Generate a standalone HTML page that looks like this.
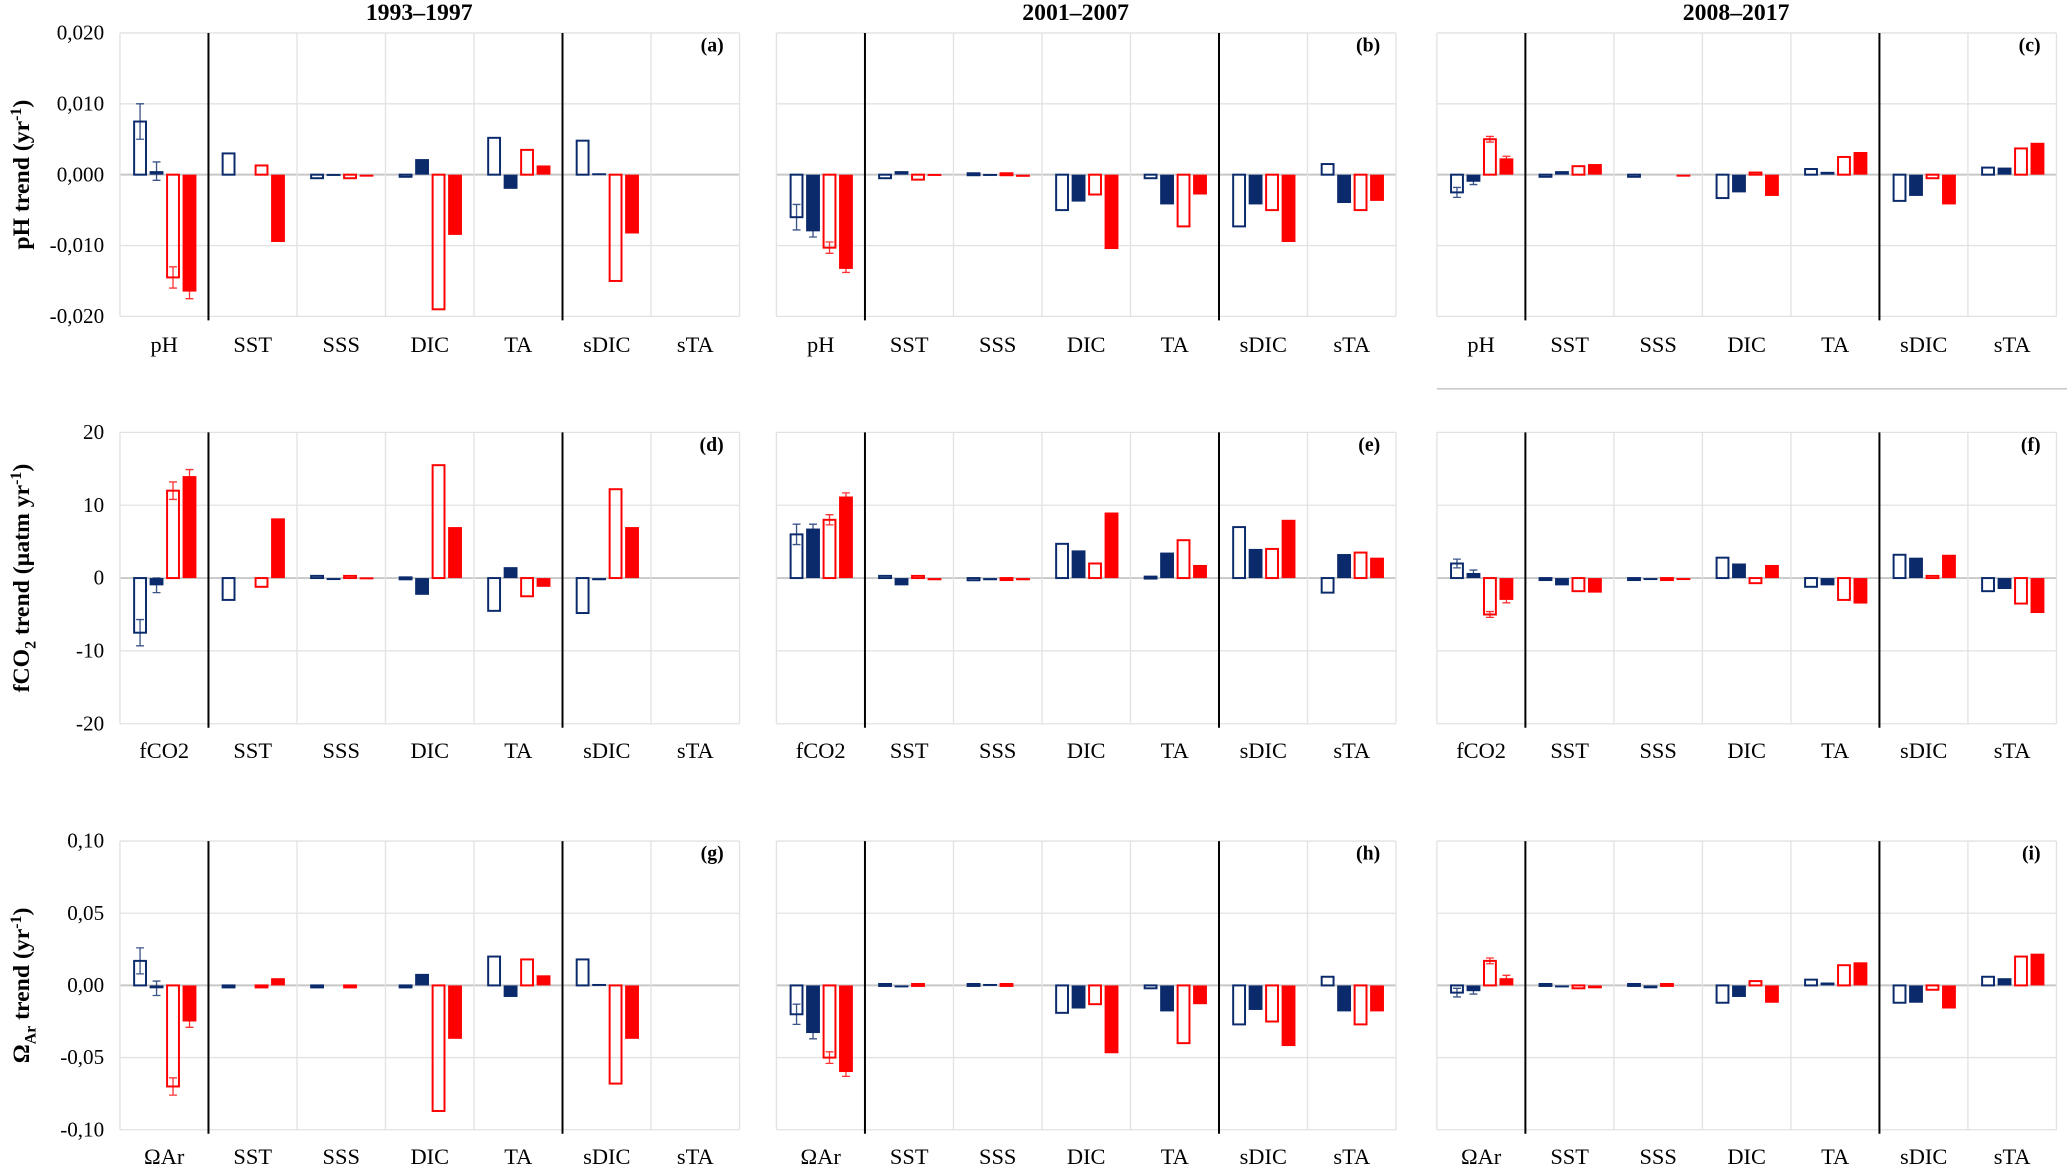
<!DOCTYPE html>
<html><head><meta charset="utf-8"><style>
html,body{margin:0;padding:0;background:#fff;}
svg{display:block;font-family:"Liberation Serif","DejaVu Serif",serif;}
</style></head><body>
<svg id="chart" width="2067" height="1168" viewBox="0 0 1568 886" preserveAspectRatio="none" xmlns="http://www.w3.org/2000/svg">
<line x1="1090" y1="295" x2="1568" y2="295" stroke="#bbb" stroke-width="1"/>
</svg>
<script>
const categoriesPH = ["pH","SST","SSS","DIC","TA","sDIC","sTA"];
const categoriesFCO2 = ["fCO2","SST","SSS","DIC","TA","sDIC","sTA"];
const categoriesOmega = ["ΩAr","SST","SSS","DIC","TA","sDIC","sTA"];
const periods = ["1993–1997","2001–2007","2008–2017"];
const panelLetters = ["(a)","(b)","(c)","(d)","(e)","(f)","(g)","(h)","(i)"];
const tickLabelsPH = ["0,020","0,010","0,000","-0,010","-0,020"];
const tickValuesPH = [0.02,0.01,0,-0.01,-0.02];
const tickLabelsFCO2 = ["20","10","0","-10","-20"];
const tickValuesFCO2 = [20,10,0,-10,-20];
const tickLabelsOmega = ["0,10","0,05","0,00","-0,05","-0,10"];
const tickValuesOmega = [0.10,0.05,0,-0.05,-0.10];
// values per category: [open navy, filled navy, open red, filled red]
const valuesA = [[0.0075,0.0005,-0.0145,-0.0165],[0.003,0,0.0013,-0.0095],[-0.0005,0.0001,-0.0005,-0.0002],[-0.0003,0.0022,-0.019,-0.0085],[0.0052,-0.002,0.0035,0.0013],[0.0048,0.0002,-0.015,-0.0083],[0,0,0,0]];
const valuesB = [[-0.006,-0.008,-0.0103,-0.0133],[-0.0005,0.0005,-0.0007,0.0001],[0.0002,0.0001,0.0002,-0.0003],[-0.005,-0.0038,-0.0028,-0.0105],[-0.0005,-0.0042,-0.0073,-0.0028],[-0.0073,-0.0042,-0.005,-0.0095],[0.0015,-0.004,-0.005,-0.0037]];
const valuesC = [[-0.0025,-0.001,0.005,0.0023],[-0.0003,0.0005,0.0012,0.0015],[-0.0003,0,0,-0.0001],[-0.0033,-0.0025,0.0003,-0.003],[0.0008,0.0004,0.0025,0.0032],[-0.0037,-0.003,-0.0005,-0.0042],[0.001,0.001,0.0037,0.0045]];
const valuesD = [[-7.5,-1,12,14],[-3,0,-1.2,8.2],[0.3,-0.2,0.3,0.1],[0.1,-2.3,15.5,7],[-4.5,1.5,-2.5,-1.2],[-4.8,-0.3,12.2,7],[0,0,0,0]];
const valuesE = [[6,6.8,8,11.2],[0.3,-1,0.3,-0.3],[-0.3,-0.3,-0.2,-0.3],[4.7,3.8,2,9],[0.2,3.5,5.2,1.8],[7,4,4,8],[-2,3.3,3.5,2.8]];
const valuesF = [[2,0.7,-5,-3],[-0.2,-1,-1.8,-2],[-0.2,-0.2,-0.2,-0.2],[2.8,2,-0.7,1.8],[-1.2,-1,-3,-3.5],[3.2,2.8,0.3,3.2],[-1.8,-1.5,-3.5,-4.8]];
const valuesG = [[0.017,-0.002,-0.07,-0.025],[-0.001,0,-0.001,0.005],[-0.001,0,-0.001,0],[-0.001,0.008,-0.087,-0.037],[0.02,-0.008,0.018,0.007],[0.018,0.001,-0.068,-0.037],[0,0,0,0]];
const valuesH = [[-0.02,-0.033,-0.05,-0.06],[0.001,-0.001,0.001,0],[0.001,0.001,0.001,0],[-0.019,-0.016,-0.013,-0.047],[-0.002,-0.018,-0.04,-0.013],[-0.027,-0.017,-0.025,-0.042],[0.006,-0.018,-0.027,-0.018]];
const valuesI = [[-0.005,-0.004,0.017,0.005],[0.001,-0.001,-0.002,-0.002],[0.001,-0.002,0.001,0],[-0.012,-0.008,0.003,-0.012],[0.004,0.002,0.014,0.016],[-0.012,-0.012,-0.003,-0.016],[0.006,0.005,0.02,0.022]];
// error bars on first category
const errorsA = [0.0025,0.0013,0.0015,0.001];
const errorsB = [0.0018,0.0008,0.0008,0.0005];
const errorsC = [0.0007,0.0004,0.0004,0.0003];
const errorsD = [1.8,1,1.2,0.9];
const errorsE = [1.4,0.6,0.7,0.5];
const errorsF = [0.6,0.4,0.4,0.4];
const errorsG = [0.009,0.005,0.006,0.004];
const errorsH = [0.007,0.004,0.004,0.003];
const errorsI = [0.003,0.002,0.002,0.002];

const NS = "http://www.w3.org/2000/svg";
const svg = document.getElementById("chart");
function mk(tag, attrs, parent){const e=document.createElementNS(NS,tag);for(const k in attrs)e.setAttribute(k,attrs[k]);(parent||svg).appendChild(e);return e;}

const colLeft=[91,589,1090];
const W=470;
const rows=[
 {top:25,bottom:240,max:0.02,min:-0.02,labY:261,cats:categoriesPH,ticks:tickValuesPH,tl:tickLabelsPH,vals:[valuesA,valuesB,valuesC],errs:[errorsA,errorsB,errorsC]},
 {top:328,bottom:549,max:20,min:-20,labY:569,cats:categoriesFCO2,ticks:tickValuesFCO2,tl:tickLabelsFCO2,vals:[valuesD,valuesE,valuesF],errs:[errorsD,errorsE,errorsF]},
 {top:638,bottom:857,max:0.10,min:-0.10,labY:877,cats:categoriesOmega,ticks:tickValuesOmega,tl:tickLabelsOmega,vals:[valuesG,valuesH,valuesI],errs:[errorsG,errorsH,errorsI]}
];
const colors=["#0b2a6b","#0b2a6b","#ff0000","#ff0000"];
const filled=[false,true,false,true];

periods.forEach((p,c)=>{
  const t=mk("text",{x:colLeft[c]+W/2-8,y:15,"text-anchor":"middle","font-size":"18","font-weight":"bold"});
  
  
  t.textContent=p;
});

rows.forEach((r,ri)=>{
  const y=v=>r.top+(r.max-v)/(r.max-r.min)*(r.bottom-r.top);
  const cy=(r.top+r.bottom)/2;
  const yt=mk("text",{x:0,y:0,transform:`translate(22,${cy}) rotate(-90)`,"text-anchor":"middle","font-size":"18","font-weight":"bold"});
  
  
  if(ri===0){yt.innerHTML='pH trend (yr<tspan dy="-6" font-size="12">-1</tspan><tspan dy="6">)</tspan>';}
  else if(ri===1){yt.innerHTML='fCO<tspan dy="5" font-size="12">2</tspan><tspan dy="-5"> trend (µatm yr</tspan><tspan dy="-6" font-size="12">-1</tspan><tspan dy="6">)</tspan>';}
  else {yt.innerHTML='Ω<tspan dy="5" font-size="12">Ar</tspan><tspan dy="-5"> trend (yr</tspan><tspan dy="-6" font-size="12">-1</tspan><tspan dy="6">)</tspan>';}
  for(let c=0;c<3;c++){
    const L=colLeft[c], cw=W/7;
    const g=mk("g",{});
    
    
    r.ticks.forEach((tv,i)=>{
      const gl=mk("line",{x1:L,x2:L+W,y1:y(tv),y2:y(tv),stroke:tv===0?"#c8c8c8":"#e2e2e2","stroke-width":tv===0?1.5:1},g);
      
      
      if(c===0){
        const tl=mk("text",{x:L-12,y:y(tv)+5,"text-anchor":"end","font-size":"16"},g);
        
        
        tl.textContent=r.tl[i];
      }
    });
    for(let k=0;k<=7;k++){
      const sep=(k===1||k===5);
      const x=L+k*cw;
      const vl=mk("line",{x1:x,x2:x,y1:r.top,y2:sep?r.bottom+3:r.bottom,stroke:sep?"#000":"#e2e2e2","stroke-width":sep?1.5:1},g);
      
      
    }
    r.cats.forEach((cat,k)=>{
      const tx=mk("text",{x:L+k*cw+cw/2,y:r.labY+6,"text-anchor":"middle","font-size":"17"},g);
      
      
      tx.textContent=cat;
    });
    const pl=mk("text",{x:L+W-12,y:r.top+14,"text-anchor":"end","font-size":"15","font-weight":"bold"},g);
    
    
    pl.textContent=panelLetters[ri*3+c];
    const vals=r.vals[c], errs=r.errs[c];
    const bw=10.5, step=12.5;
    vals.forEach((set,k)=>{
      set.forEach((v,s)=>{
        if(v===0) return;
        const x=L+k*cw+10+s*step;
        const y0=y(0), y1=y(v);
        const top=Math.min(y0,y1), h=Math.max(Math.abs(y1-y0),1.5);
        const b=mk("rect",{x:filled[s]?x:x+0.75,y:top,width:filled[s]?bw:bw-1.5,height:h,fill:filled[s]?colors[s]:"none",stroke:colors[s],"stroke-width":filled[s]?0:1.5},g);
        
        
        if(k===0){
          const e=errs[s], cx=x+bw/2;
          const ya=y(v+e), yb=y(v-e);
          const eb=mk("path",{d:`M${cx},${ya}V${yb}M${cx-3},${ya}H${cx+3}M${cx-3},${yb}H${cx+3}`,stroke:colors[s],"stroke-width":1,fill:"none",opacity:0.8},g);
          
          
        }
      });
    });
  }
});
</script>
</body></html>
